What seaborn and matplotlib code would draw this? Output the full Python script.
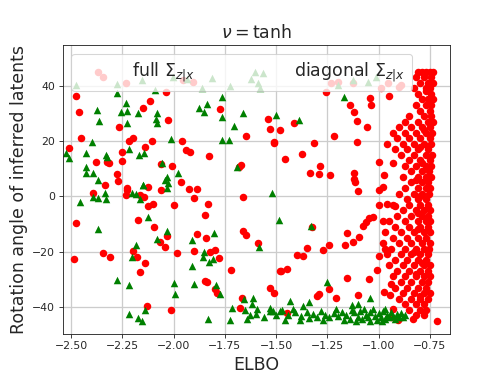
import numpy as np
import pandas as pd
import matplotlib
matplotlib.use('Agg')
import matplotlib.pyplot as plt
from matplotlib.lines import Line2D
import seaborn as sns

# red circles: full Sigma_{z|x}  (ELBO, rotation angle)
full_scattered = [
    (-2.367, 44.85), (-2.343, 43.26), (-2.232, 41.09), (-2.477, 36.38), (-2.461, 30.37),
    (-2.453, 21.18), (-2.508, 17.56), (-2.268, 24.94), (-2.148, 32.04), (-2.116, 34.46),
    (-2.038, 37.83), (-2.025, 27.58), (-2.216, 19.98), (-2.197, 21.18), (-2.106, 20.09),
    (-2.140, 17.70), (-2.252, 16.00), (-1.960, 19.87), (-1.940, 16.72), (-1.921, 16.00),
    (-1.827, 14.44), (-2.378, 12.38), (-2.326, 12.38), (-2.314, 12.13), (-2.252, 12.63),
    (-2.062, 11.76), (-2.010, 11.04), (-2.275, 8.14), (-2.271, 5.50), (-2.335, 4.05),
    (-2.226, 2.86), (-2.127, 3.44), (-1.775, 31.57), (-1.645, 21.79), (-1.669, 11.40),
    (-1.681, 10.46), (-1.541, 27.95), (-1.528, 24.22), (-1.512, 19.73), (-1.483, 23.96),
    (-1.954, 42.06), (-1.905, 41.45),
    (-1.259, 37.83), (-1.231, 41.09), (-1.142, 33.01), (-1.118, 30.59), (-1.107, 27.33),
    (-1.058, 25.16), (-1.040, 35.44), (-1.037, 33.01), (-0.948, 36.27), (-0.891, 40.25),
    (-1.415, 26.39), (-1.512, 19.37), (-1.220, 21.79), (-1.107, 19.51), (-1.313, 19.37),
    (-1.374, 15.17), (-1.455, 13.36), (-1.288, 11.04), (-1.337, 8.51), (-1.292, 7.93),
    (-1.235, 7.67), (-1.118, 8.29), (-1.118, 6.12), (-0.996, 12.49), (-0.932, 11.91),
    (-0.972, 7.67), (-0.988, 39.06), (-0.956, 40.87), (-0.899, 39.64), (-1.199, 41.45),
    (-1.126, 40.87),
    (-2.394, 1.05), (-2.476, -9.81), (-2.484, -22.73), (-2.346, -20.45), (-2.310, -21.90),
    (-2.229, 2.24), (-2.232, 0.43), (-2.175, -8.62), (-2.164, 0.43), (-2.143, -0.18),
    (-2.124, -3.55), (-2.100, -2.82), (-2.095, -11.04), (-2.064, 2.24), (-1.999, -3.19),
    (-1.966, 5.25), (-1.924, 2.50), (-1.888, 2.50), (-1.901, -0.76), (-1.832, -2.82),
    (-1.848, -6.81), (-1.885, -13.79), (-1.843, -15.02), (-2.067, -16.47), (-2.043, -18.50),
    (-2.031, -14.41), (-2.200, -19.84), (-2.177, -21.90), (-2.140, -24.07), (-2.164, -27.33),
    (-1.983, -20.45), (-1.900, -19.73), (-1.824, -20.09), (-1.799, -19.48), (-1.780, -22.48),
    (-1.848, -30.59), (-1.837, -30.95), (-1.796, -33.34), (-1.786, -34.93), (-1.718, -26.72),
    (-1.664, -0.40), (-1.664, -12.49), (-1.648, -14.05), (-1.589, -17.05), (-1.666, -36.60),
    (-1.674, -40.36), (-2.132, -39.49), (-2.013, -41.19), (-1.532, -32.98), (-1.511, -34.79),
    (-1.483, -26.97),
    (-1.113, 5.25), (-1.102, 1.99), (-0.996, 2.24), (-0.980, 3.44), (-0.996, -3.19),
    (-0.961, -2.93), (-0.918, -3.55), (-0.980, -8.98), (-1.045, -8.00), (-1.061, -9.23),
    (-1.078, -10.79), (-1.029, -7.42), (-1.097, -14.88), (-1.126, -16.47), (-1.162, -17.67),
    (-1.153, -13.43), (-1.243, -17.67), (-1.269, -19.48), (-1.350, -18.86), (-1.370, -21.65),
    (-1.399, -21.29), (-1.326, -11.04), (-1.446, -26.46), (-1.475, -27.08), (-1.153, -29.72),
    (-1.045, -30.08), (-1.010, -26.72), (-1.243, -33.34), (-1.207, -36.60), (-1.292, -35.15),
    (-1.300, -36.13), (-1.102, -35.77), (-0.972, -34.57), (-0.940, -31.78), (-0.944, -35.77),
    (-0.996, -21.65), (-0.967, -19.22), (-1.447, -42.17), (-0.932, -40.58), (-0.940, -43.62),
    (-0.907, -44.81), (-0.713, -45.07), (-0.834, -44.20),
]

# red circles packed near the best ELBO
full_column = [
    (-0.81, 45), (-0.79, 45), (-0.77, 45), (-0.75, 45), (-0.735, 45),
    (-0.82, 43), (-0.78, 43), (-0.745, 43),
    (-0.80, 41), (-0.76, 41), (-0.735, 41),
    (-0.83, 39), (-0.77, 39), (-0.75, 39),
    (-0.81, 37), (-0.745, 37), (-0.77, 38),
    (-0.79, 35), (-0.76, 35), (-0.735, 35),
    (-0.82, 33), (-0.77, 33), (-0.745, 33),
    (-0.80, 31), (-0.75, 31),
    (-0.85, 29), (-0.78, 29), (-0.745, 29),
    (-0.87, 27), (-0.81, 27), (-0.76, 27), (-0.735, 27),
    (-0.90, 25), (-0.84, 25), (-0.79, 25), (-0.75, 25), (-0.78, 24),
    (-0.93, 23), (-0.87, 23), (-0.82, 23), (-0.77, 23), (-0.74, 23),
    (-0.91, 21), (-0.85, 21), (-0.80, 21), (-0.75, 21),
    (-0.96, 19), (-0.88, 19), (-0.83, 19), (-0.78, 19), (-0.745, 19), (-0.80, 18),
    (-0.92, 17), (-0.86, 17), (-0.81, 17), (-0.76, 17),
    (-0.89, 15), (-0.83, 15), (-0.77, 15), (-0.74, 15),
    (-0.85, 13), (-0.80, 13), (-0.75, 13), (-0.79, 12),
    (-0.87, 11), (-0.82, 11), (-0.77, 11), (-0.745, 11),
    (-0.84, 9), (-0.79, 9), (-0.755, 9),
    (-0.88, 7), (-0.81, 7), (-0.77, 7), (-0.745, 7), (-0.82, 6),
    (-0.84, 5), (-0.79, 5), (-0.76, 5),
    (-0.87, 3), (-0.81, 3), (-0.77, 3), (-0.75, 3),
    (-0.90, 1), (-0.83, 1), (-0.79, 1), (-0.755, 1), (-0.80, 0),
    (-0.86, -1), (-0.81, -1), (-0.77, -1),
    (-0.93, -3), (-0.85, -3), (-0.80, -3), (-0.76, -3),
    (-0.88, -5), (-0.82, -5), (-0.78, -5), (-0.75, -5), (-0.81, -6),
    (-0.91, -7), (-0.84, -7), (-0.79, -7), (-0.76, -7),
    (-0.95, -9), (-0.87, -9), (-0.81, -9), (-0.77, -9), (-0.75, -9),
    (-0.92, -11), (-0.85, -11), (-0.80, -11), (-0.76, -11), (-0.81, -12),
    (-0.97, -13), (-0.89, -13), (-0.83, -13), (-0.78, -13), (-0.75, -13),
    (-0.93, -15), (-0.86, -15), (-0.81, -15), (-0.77, -15),
    (-0.98, -17), (-0.90, -17), (-0.84, -17), (-0.79, -17), (-0.75, -17),
    (-0.94, -19), (-0.87, -19), (-0.82, -19), (-0.78, -19), (-0.755, -19), (-0.83, -20),
    (-0.96, -21), (-0.89, -21), (-0.84, -21), (-0.80, -21), (-0.76, -21),
    (-0.92, -23), (-0.86, -23), (-0.81, -23), (-0.77, -23), (-0.79, -24),
    (-0.95, -25), (-0.88, -25), (-0.83, -25), (-0.78, -25), (-0.75, -25),
    (-0.91, -27), (-0.85, -27), (-0.80, -27), (-0.76, -27), (-0.82, -28),
    (-0.93, -29), (-0.87, -29), (-0.82, -29), (-0.78, -29), (-0.75, -29),
    (-0.89, -31), (-0.84, -31), (-0.79, -31), (-0.76, -31),
    (-0.92, -33), (-0.86, -33), (-0.81, -33), (-0.77, -33),
    (-0.88, -35), (-0.83, -35), (-0.78, -35), (-0.75, -35), (-0.80, -36),
    (-0.90, -37), (-0.84, -37), (-0.80, -37), (-0.76, -37),
    (-0.87, -39), (-0.82, -39), (-0.78, -39),
    (-0.85, -41), (-0.80, -41), (-0.77, -41),
    (-0.82, -43), (-0.78, -43),
]

# green triangles: diagonal Sigma_{z|x}
diag_scattered = [
    (-1.605, 44.85), (-1.564, 44.49), (-2.476, 40.25), (-2.278, 40.62), (-2.156, 42.06),
    (-2.004, 43.04), (-1.937, 42.32), (-1.864, 39.06), (-1.815, 42.90), (-1.726, 39.89),
    (-1.621, 42.32), (-1.589, 41.09), (-1.580, 39.06), (-2.278, 37.25), (-2.091, 38.44),
    (-2.372, 31.20), (-2.365, 27.33), (-2.232, 33.85), (-2.258, 30.37), (-2.226, 30.95),
    (-2.226, 26.39), (-2.173, 30.01), (-2.083, 30.23), (-2.086, 27.84), (-2.080, 26.61),
    (-1.877, 31.82), (-1.851, 30.59), (-1.837, 33.27), (-1.764, 36.02), (-1.764, 28.78),
    (-1.705, 25.52), (-1.662, 30.01), (-1.499, 29.39), (-2.012, 20.71), (-2.398, 19.73),
    (-2.526, 15.53), (-2.510, 13.72), (-2.427, 15.75), (-2.330, 14.91), (-2.323, 14.08),
    (-2.216, 17.09), (-2.171, 14.91), (-2.145, 15.75), (-2.427, 10.68), (-2.427, 8.51),
    (-2.394, 8.51), (-2.367, 5.86), (-2.057, 11.91), (-2.034, 7.06), (-2.043, 5.86),
    (-2.029, 4.89), (-1.981, 8.29), (-2.148, 4.05), (-1.764, 20.34), (-1.731, 20.34),
    (-1.689, 10.68), (-1.167, 36.02), (-1.389, 27.58), (-1.199, 40.25), (-1.126, 42.06),
    (-1.053, 41.45), (-1.012, 43.26),
    (-2.456, -1.99), (-2.391, -0.40), (-2.370, -0.76), (-2.335, 1.27), (-2.330, -1.01),
    (-2.370, -11.98), (-2.205, 1.27), (-2.184, 0.80), (-2.164, -1.12), (-2.151, 4.05),
    (-2.127, -7.42), (-2.184, -17.67), (-2.202, -22.12), (-2.083, -15.60), (-2.034, -12.49),
    (-2.031, 2.86), (-2.275, -30.33), (-2.218, -32.14), (-2.216, -42.64), (-2.173, -43.98),
    (-2.156, -45.07), (-2.140, -41.19), (-1.997, -31.53), (-1.991, -35.15), (-1.910, -15.86),
    (-1.908, -25.27), (-1.900, -31.78), (-1.853, -20.09), (-1.859, -22.12), (-1.827, -23.71),
    (-1.808, -22.84), (-1.804, -13.21), (-1.791, -32.14), (-1.775, -35.40), (-1.832, -44.20),
    (-1.726, -44.56), (-1.713, -40.22), (-1.658, -36.96), (-1.613, -36.60), (-1.616, -38.77),
    (-1.653, -40.94), (-1.629, -43.00), (-1.593, -40.58), (-1.532, -40.22), (-1.516, -41.56),
    (-1.483, -41.45), (-1.519, 1.05), (-1.486, -8.62), (-1.584, -18.50),
    (-1.332, -10.68), (-1.253, -31.17), (-1.040, -36.60), (-1.431, -37.83), (-1.340, -38.19),
    (-1.369, -39.75), (-1.131, -39.38), (-1.102, -38.77), (-1.459, -44.56), (-1.382, -44.56),
]

# green triangles in the band along the bottom
diag_band = [
    (-1.53, -41.5), (-1.50, -42.8), (-1.47, -41.2), (-1.44, -43.0), (-1.41, -42.0),
    (-1.38, -43.2), (-1.35, -41.8), (-1.32, -42.5), (-1.30, -43.5), (-1.28, -41.6),
    (-1.26, -42.8), (-1.24, -43.8), (-1.22, -42.2), (-1.20, -43.2), (-1.18, -41.8),
    (-1.16, -43.0), (-1.14, -44.2), (-1.12, -42.0), (-1.10, -43.5), (-1.09, -41.5),
    (-1.08, -44.5), (-1.06, -42.8), (-1.05, -43.8), (-1.04, -41.8), (-1.02, -43.2),
    (-1.01, -44.6), (-1.00, -42.3), (-0.99, -43.6), (-0.98, -41.6), (-0.97, -44.2),
    (-0.96, -42.8), (-0.95, -43.8), (-0.94, -42.0), (-0.93, -43.2), (-0.92, -44.4),
    (-0.91, -42.6), (-0.90, -43.6), (-0.89, -42.2), (-0.88, -43.8), (-0.87, -42.8),
    (-1.13, -41.0), (-1.07, -40.8), (-1.03, -40.9), (-0.97, -40.9), (-1.17, -44.8),
    (-1.11, -45.0), (-1.04, -45.2), (-0.985, -45.0), (-1.21, -40.8), (-1.27, -44.8),
    (-1.34, -44.0), (-1.42, -40.8), (-1.56, -43.5), (-1.60, -42.6), (-1.64, -44.2),
]

LABELS = [r'full $\Sigma_{z|x}$', r'diagonal $\Sigma_{z|x}$']

full_df = pd.DataFrame(full_scattered + full_column, columns=['elbo', 'angle'])
diag_df = pd.DataFrame(diag_scattered + diag_band, columns=['elbo', 'angle'])

sns.set_style('ticks', {'axes.grid': True})
plt.rcParams['font.family'] = ['DejaVu Sans']

fig, ax = plt.subplots(figsize=(6.4, 4.8), dpi=78.125)
sns.scatterplot(data=full_df, x='elbo', y='angle', color='red', marker='o',
                s=48, linewidth=0, ax=ax)
sns.scatterplot(data=diag_df, x='elbo', y='angle', color='green', marker='^',
                s=48, linewidth=0, ax=ax)

ax.set_xlim(-2.542, -0.652)
ax.set_ylim(-49.7, 54.7)
ax.set_xticks([-2.5, -2.25, -2.0, -1.75, -1.5, -1.25, -1.0, -0.75])
ax.set_yticks([-40, -20, 0, 20, 40])
ax.grid(True, color='#cccccc', linewidth=1.2)
for sp in ax.spines.values():
    sp.set_color('#222222')

ax.set_title(r'$\nu = \tanh$', fontsize=16)
ax.set_xlabel('ELBO', fontsize=16)
ax.set_ylabel('Rotation angle of inferred latents', fontsize=16)

# legend entries carry text only
handles = [Line2D([], [], linestyle='none'), Line2D([], [], linestyle='none')]
ax.legend(handles, LABELS, loc='upper left', ncol=2, fontsize=16,
          handlelength=2.3, columnspacing=2.6)

plt.subplots_adjust(left=0.125, right=0.9, top=0.88, bottom=0.11)
plt.savefig('out.png', dpi=78.125)
plt.close()
